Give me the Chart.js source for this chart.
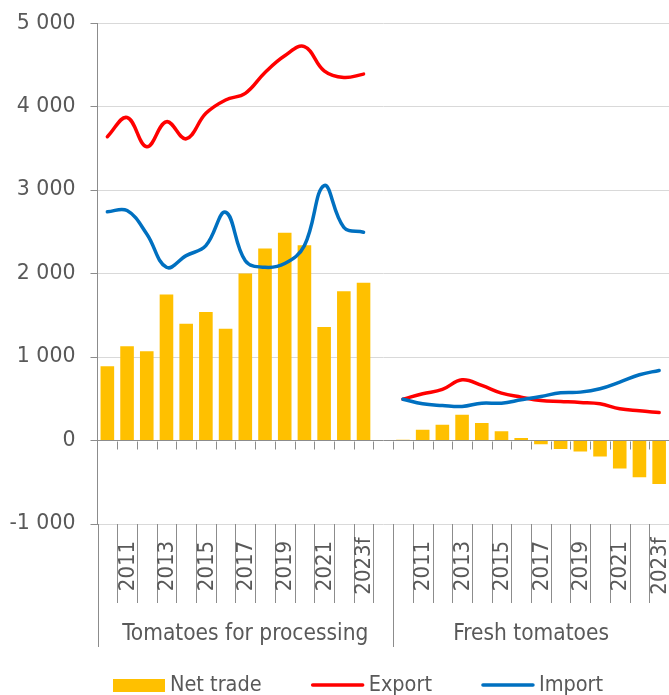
<!DOCTYPE html>
<html>
<head>
<meta charset="utf-8">
<script src="https://cdn.jsdelivr.net/npm/chart.js@4.4.0/dist/chart.umd.min.js"></script>
<style>
  html, body { margin: 0; padding: 0; background: #fff; }
  #wrap { width: 669px; height: 695px; position: relative; }
</style>
</head>
<body>
<div id="wrap"><canvas id="chart"></canvas></div>
<script>
// years per group, group names, and which year labels are shown
const years = ['2010', '2011', '2012', '2013', '2014', '2015', '2016', '2017', '2018', '2019', '2020', '2021', '2022', '2023f'];
const groups = ['Tomatoes for processing', 'Fresh tomatoes'];
const shownYears = ['2011', '2013', '2015', '2017', '2019', '2021', '2023f'];
const yTicks = [-1000, 0, 1000, 2000, 3000, 4000, 5000];

// tomatoes for processing
const netProcessing = [890, 1130, 1070, 1750, 1400, 1540, 1340, 2000, 2300, 2490, 2340, 1360, 1790, 1890];
const exportProcessing = [3640, 3870, 3520, 3820, 3615, 3920, 4080, 4160, 4410, 4610, 4720, 4430, 4350, 4390];
const importProcessing = [2740, 2755, 2475, 2075, 2215, 2335, 2735, 2155, 2075, 2120, 2335, 3055, 2555, 2495];

// fresh tomatoes
const netFresh = [10, 130, 190, 310, 210, 110, 30, -45, -100, -130, -190, -335, -440, -520];
const exportFresh = [495, 560, 612, 728, 660, 568, 520, 480, 468, 456, 440, 380, 356, 336];
const importFresh = [495, 440, 420, 408, 448, 448, 488, 528, 572, 580, 620, 700, 788, 840];

// one empty category between the two groups
const labels = [...years, '', ...years];
const gapIndex = years.length;
const join = (a, b) => [...a, null, ...b];

const textColor = '#595959';
const axisColor = '#8c8c8c';
const condFont = '"DejaVu Sans Condensed", "DejaVu Sans", sans-serif';

function fmt(v) {
  return String(v).replace(/\B(?=(\d{3})+(?!\d))/g, ' ');
}

const decor = {
  id: 'decor',
  afterDraw(chart) {
    const ctx = chart.ctx;
    const area = chart.chartArea;
    const x = chart.scales.x;
    const y = chart.scales.y;
    const step = (area.right - area.left) / labels.length;
    const zeroY = y.getPixelForValue(0);
    const lowY = y.getPixelForValue(-1000);
    const bottomY = 647;
    const bandY = lowY + 79;
    const edge = k => Math.round(area.left + k * step) + 0.5;

    ctx.save();
    ctx.strokeStyle = axisColor;
    ctx.lineWidth = 1;
    ctx.beginPath();
    // y axis running down past the plot
    ctx.moveTo(edge(0), area.bottom);
    ctx.lineTo(edge(0), bottomY);
    for (let k = 1; k < labels.length; k++) {
      const px = edge(k);
      // small ticks under the zero line
      ctx.moveTo(px, Math.round(zeroY) + 0.5);
      ctx.lineTo(px, Math.round(zeroY) + 8.5);
      // cell lines of the label band
      ctx.moveTo(px, Math.round(lowY));
      ctx.lineTo(px, k === gapIndex + 1 ? bottomY : bandY);
    }
    ctx.stroke();

    // year labels
    ctx.fillStyle = textColor;
    ctx.font = '22px ' + condFont;
    ctx.textAlign = 'center';
    ctx.textBaseline = 'middle';
    labels.forEach((lab, i) => {
      if (!shownYears.includes(lab)) return;
      ctx.save();
      ctx.translate(x.getPixelForValue(i), 566);
      ctx.rotate(-Math.PI / 2);
      ctx.fillText(lab, 0, 1);
      ctx.restore();
    });

    // group labels
    ctx.font = '22.5px ' + condFont;
    ctx.textBaseline = 'alphabetic';
    const mid = area.left + (gapIndex + 1) * step;
    ctx.fillText(groups[0], (area.left + mid) / 2, 640);
    ctx.fillText(groups[1], (mid + area.right) / 2, 640);

    // legend
    ctx.font = '21.5px ' + condFont;
    ctx.textAlign = 'left';
    let lx = 113;
    const ly = 685;
    chart.data.datasets.forEach(ds => {
      if (ds.type === 'line') {
        ctx.strokeStyle = ds.borderColor;
        ctx.lineWidth = 3.5;
        ctx.lineCap = 'round';
        ctx.beginPath();
        ctx.moveTo(lx + 1, ly);
        ctx.lineTo(lx + 51, ly);
        ctx.stroke();
      } else {
        ctx.fillStyle = ds.backgroundColor;
        ctx.fillRect(lx, ly - 6, 52, 13);
      }
      ctx.fillStyle = textColor;
      ctx.fillText(ds.label, lx + 57, 691);
      lx += 57 + ctx.measureText(ds.label).width + 50;
    });
    ctx.restore();
  }
};

new Chart(document.getElementById('chart'), {
  data: {
    labels: labels,
    datasets: [
      {
        type: 'bar',
        label: 'Net trade',
        data: join(netProcessing, netFresh),
        backgroundColor: '#FFC000',
        borderWidth: 0,
        barPercentage: 0.69,
        categoryPercentage: 1,
        order: 3
      },
      {
        type: 'line',
        label: 'Export',
        data: join(exportProcessing, exportFresh),
        borderColor: '#FF0000',
        borderWidth: 3.5,
        pointRadius: 0,
        tension: 0.4,
        fill: false,
        borderCapStyle: 'round',
        order: 2
      },
      {
        type: 'line',
        label: 'Import',
        data: join(importProcessing, importFresh),
        borderColor: '#0070C0',
        borderWidth: 3.5,
        pointRadius: 0,
        tension: 0.4,
        fill: false,
        borderCapStyle: 'round',
        order: 1
      }
    ]
  },
  options: {
    responsive: true,
    maintainAspectRatio: false,
    animation: false,
    layout: { padding: { top: 23, bottom: 171, left: 0, right: -3 } },
    plugins: {
      legend: { display: false },
      tooltip: { enabled: false }
    },
    scales: {
      x: { display: false, offset: true },
      y: {
        min: -1000,
        max: 5000,
        afterBuildTicks: scale => { scale.ticks = yTicks.map(v => ({ value: v })); },
        afterFit: scale => { scale.width = 97.5; },
        ticks: {
          color: textColor,
          font: { family: 'DejaVu Sans', size: 20.5, lineHeight: 0.8 },
          padding: 15,
          callback: v => fmt(v)
        },
        grid: {
          color: c => (c.tick && c.tick.value === 0 ? axisColor : '#d9d9d9'),
          tickColor: axisColor,
          tickLength: 7
        },
        border: { color: axisColor }
      }
    }
  },
  plugins: [decor]
});
</script>
</body>
</html>
